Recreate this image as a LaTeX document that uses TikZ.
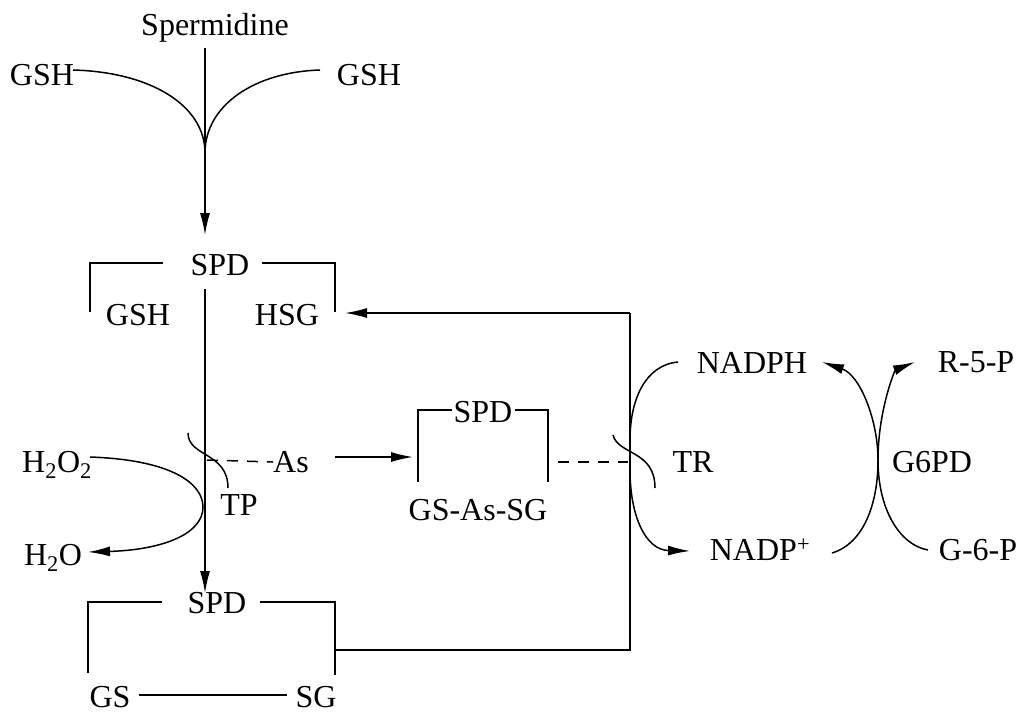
\documentclass[tikz,border=0pt]{standalone}
\usepackage{fontspec}
\setmainfont{Liberation Serif}
\usetikzlibrary{arrows.meta,calc}
\begin{document}
\begin{tikzpicture}[x=1pt,y=-1pt,
  lbl/.style={inner sep=0pt, text height=21pt, text depth=0pt, font=\fontsize{32}{38}\selectfont},
  ln/.style={line width=1.5pt, line join=miter},
  arr/.style={ln, -{Latex[length=22pt,width=10pt]}},
  dsh/.style={ln, dash pattern=on 11pt off 9pt}]
\useasboundingbox (0,0) rectangle (1024,713);
% labels
\node[lbl] (sperm) at (215,25) {Spermidine};
\node[lbl] (gshL) at (42,75) {GSH};
\node[lbl] (gshR) at (369,75) {GSH};
\node[lbl] (spd1) at (220,265) {SPD};
\node[lbl] (gsh1) at (138,315) {GSH};
\node[lbl] (hsg1) at (287,315) {HSG};
\node[lbl] (h2o2) at (57,462) {H\textsubscript{2}O\textsubscript{2}};
\node[lbl] (h2o) at (53,555) {H\textsubscript{2}O};
\node[lbl] (tp) at (239,505) {TP};
\node[lbl] (as) at (291,462) {As};
\node[lbl] (spd2) at (483,412) {SPD};
\node[lbl] (gsasg) at (478,510) {GS-As-SG};
\node[lbl] (tr) at (693,462) {TR};
\node[lbl] (nadph) at (752,363) {NADPH};
\node[lbl] (nadp) at (760,550) {NADP\textsuperscript{+}};
\node[lbl] (r5p) at (976,362) {R-5-P};
\node[lbl] (g6pd) at (932,462) {G6PD};
\node[lbl] (g6p) at (978,550) {G-6-P};
\node[lbl] (spd3) at (217,603) {SPD};
\node[lbl] (gs) at (110,697) {GS};
\node[lbl] (sg) at (316,697) {SG};
% coordinates
\coordinate (cusp) at (205,153);
\coordinate (gl) at (73,70);
\coordinate (gr) at (320,70);
\coordinate (s0) at (205,48);
\coordinate (s1) at (205,235);
\coordinate (v0) at (205,289);
\coordinate (v1) at (205,593);
\coordinate (hsgTip) at (345,313);
\coordinate (rTop) at (630,313);
\coordinate (rBot) at (630,650);
\coordinate (sgJoin) at (335,650);
% top merge
\draw[ln] (gl) .. controls (150,72) and (205,105) .. (cusp);
\draw[ln] (gr) .. controls (255,72) and (205,105) .. (cusp);
\draw[arr] (s0) -- (s1);
% top bracket
\draw[ln] (163,263) -- (90,263) -- (90,312);
\draw[ln] (262,263) -- (335,263) -- (335,312);
\draw[arr] (v0) -- (v1);
% return line
\draw[arr] (rTop) -- (hsgTip);
\draw[ln] (rTop) -- (rBot) -- (sgJoin);
% bottom bracket
\draw[ln] (162,602) -- (88,602) -- (88,673);
\draw[ln] (260,602) -- (335,602) -- (335,675);
\draw[ln] ($(gs.east)+(8,-2)$) -- ($(sg.west)+(-8,-2)$);
% H2O2 -> H2O
\draw[arr] (90,457) .. controls (175,460) and (203,485) .. (203,507)
  .. controls (203,535) and (160,550) .. (88,552);
% TP squiggle
\draw[ln] (188,433) .. controls (188,457) and (228,452) .. (228,488);
\draw[dsh] (207,460) -- (as.west);
\draw[arr] (335,457) -- (413,457);
% middle bracket
\draw[ln] (452,410) -- (418,410) -- (418,482);
\draw[ln] (515,410) -- (548,410) -- (548,482);
\draw[dsh] (558,462) -- (628,462);
% TR squiggle
\draw[ln] (613,435) .. controls (618,455) and (655,450) .. (655,488);
% NADPH -> NADP+
\draw[arr] (678,362) .. controls (645,365) and (630,400) .. (630,440) -- (630,470)
  .. controls (630,515) and (645,550) .. (690,551);
% G6PD
\draw[arr] (832,553) .. controls (860,545) and (878,510) .. (878,460)
  .. controls (878,420) and (860,375) .. (822,362);
\draw[arr] (928,550) .. controls (900,545) and (878,510) .. (878,460)
  .. controls (878,410) and (895,370) .. (915,362);
\end{tikzpicture}
\end{document}
